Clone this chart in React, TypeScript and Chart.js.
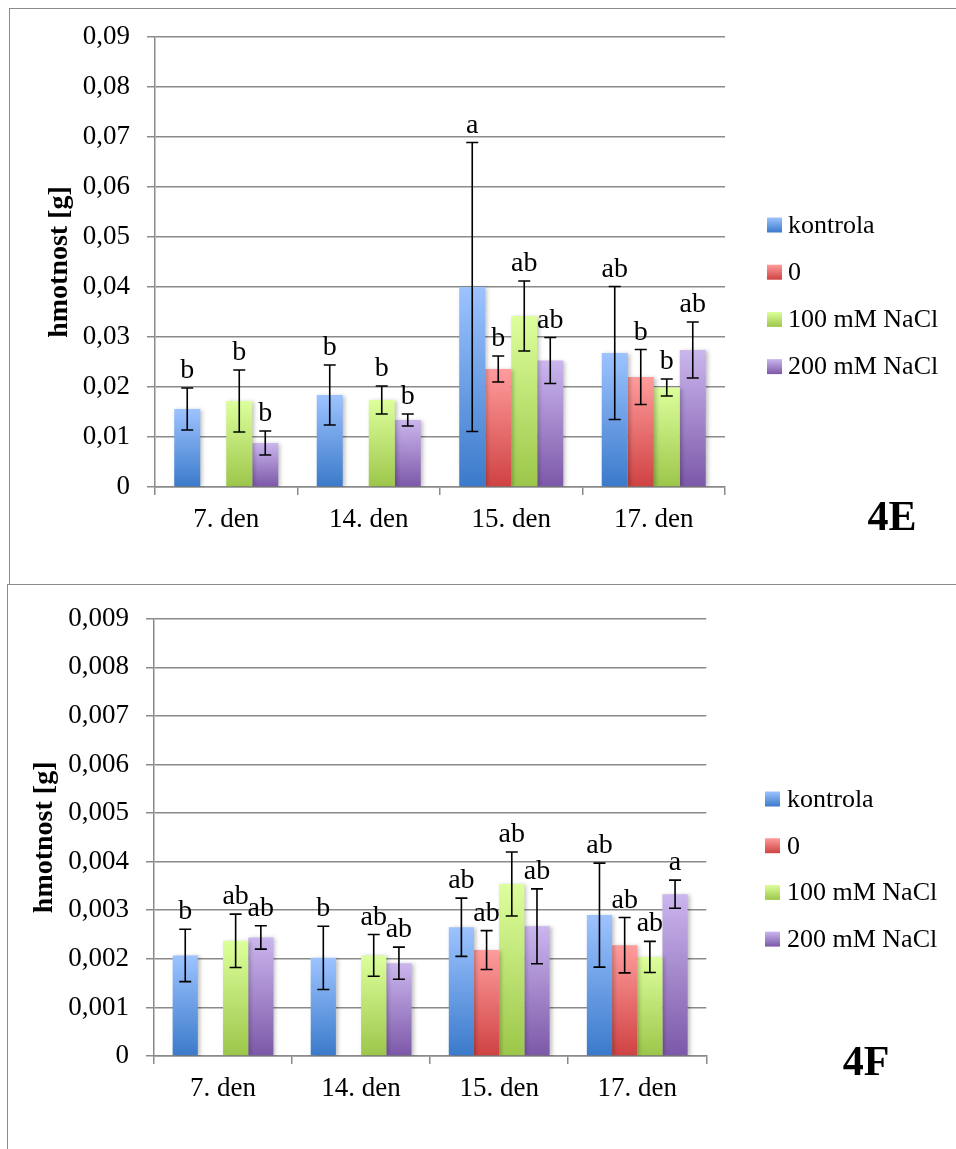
import React, { useEffect, useRef } from 'react';
import { Chart, registerables } from 'chart.js';

Chart.register(...registerables);

const FONT = "'Liberation Serif', 'Times New Roman', serif";

const categories = ['7. den', '14. den', '15. den', '17. den'];
const seriesNames = ['kontrola', '0', '100 mM NaCl', '200 mM NaCl'];
const seriesTopColors = ['#9dc3ff', '#ff9c9c', '#ddff9c', '#cbb6ee'];
const seriesBottomColors = ['#3a7aca', '#cf4242', '#9cc64a', '#7c58a8'];

// Panel 4E
const eKontrola = [0.0156, 0.0184, 0.04, 0.0268];
const eZero = [null, null, 0.0236, 0.022];
const e100 = [0.0172, 0.0174, 0.0342, 0.0199];
const e200 = [0.0088, 0.0134, 0.0253, 0.0274];
const eKontrolaErr = [0.0042, 0.006, 0.0289, 0.0133];
const eZeroErr = [null, null, 0.0026, 0.0055];
const e100Err = [0.0062, 0.0028, 0.007, 0.0017];
const e200Err = [0.0024, 0.0012, 0.0046, 0.0056];
const eKontrolaSig = ['b', 'b', 'a', 'ab'];
const eZeroSig = ['', '', 'b', 'b'];
const e100Sig = ['b', 'b', 'ab', 'b'];
const e200Sig = ['b', 'b', 'ab', 'ab'];
const eTickLabels = ['0', '0,01', '0,02', '0,03', '0,04', '0,05', '0,06', '0,07', '0,08', '0,09'];

// Panel 4F
const fKontrola = [0.00207, 0.00202, 0.00265, 0.0029];
const fZero = [null, null, 0.00218, 0.00228];
const f100 = [0.00237, 0.00207, 0.00354, 0.00204];
const f200 = [0.00244, 0.00191, 0.00267, 0.00333];
const fKontrolaErr = [0.00054, 0.00065, 0.0006, 0.00107];
const fZeroErr = [null, null, 0.0004, 0.00057];
const f100Err = [0.00055, 0.00043, 0.00066, 0.00032];
const f200Err = [0.00024, 0.00033, 0.00077, 0.00029];
const fKontrolaSig = ['b', 'b', 'ab', 'ab'];
const fZeroSig = ['', '', 'ab', 'ab'];
const f100Sig = ['ab', 'ab', 'ab', 'ab'];
const f200Sig = ['ab', 'ab', 'ab', 'a'];
const fTickLabels = ['0', '0,001', '0,002', '0,003', '0,004', '0,005', '0,006', '0,007', '0,008', '0,009'];

const yTitle = 'hmotnost [g]';
const GRID = '#8a8a8a';

type PanelProps = {
  values: (number | null)[][];
  errors: (number | null)[][];
  letters: string[][];
  tickLabels: string[];
  step: number;
  panelLabel: string;
  width: number;
  height: number;
  area: { left: number; top: number; right: number; bottom: number };
  legend: { swatchX: number; textX: number; firstY: number; gap: number };
  labelPos: { x: number; y: number };
};

function Panel(p: PanelProps) {
  const ref = useRef<HTMLCanvasElement | null>(null);
  useEffect(() => {
    const canvas = ref.current;
    if (!canvas) return;
    const xAxisH = 60;
    const tickLen = 8;
    const tickPad = 17;

    const gradFor = (c: CanvasRenderingContext2D, i: number, yTop: number, yBot: number) => {
      const g = c.createLinearGradient(0, yTop, 0, yBot);
      g.addColorStop(0, seriesTopColors[i]);
      g.addColorStop(1, seriesBottomColors[i]);
      return g;
    };

    const overlay = {
      id: 'overlay',
      beforeDatasetsDraw(chart: any) {
        const c = chart.ctx;
        c.save();
        c.shadowColor = 'rgba(0,0,0,0.25)';
        c.shadowBlur = 4;
        c.shadowOffsetX = 2;
        c.shadowOffsetY = 1;
      },
      afterDatasetsDraw(chart: any) {
        const c = chart.ctx as CanvasRenderingContext2D;
        c.restore();
        const y = chart.scales.y;
        c.save();
        c.strokeStyle = '#000';
        c.lineWidth = 1.6;
        c.fillStyle = '#000';
        c.font = `28px ${FONT}`;
        c.textAlign = 'center';
        c.textBaseline = 'alphabetic';
        p.values.forEach((series, d) => {
          const meta = chart.getDatasetMeta(d);
          series.forEach((v, j) => {
            if (v == null) return;
            const e = p.errors[d][j] ?? 0;
            const x = meta.data[j].x;
            const yt = y.getPixelForValue(v + e);
            const yb = y.getPixelForValue(v - e);
            c.beginPath();
            c.moveTo(x, yt);
            c.lineTo(x, yb);
            c.moveTo(x - 6, yt);
            c.lineTo(x + 6, yt);
            c.moveTo(x - 6, yb);
            c.lineTo(x + 6, yb);
            c.stroke();
            const l = p.letters[d][j];
            if (l) c.fillText(l, x, yt - 10);
          });
        });
        c.restore();
      },
      afterDraw(chart: any) {
        const c = chart.ctx as CanvasRenderingContext2D;
        const ca = chart.chartArea;
        c.save();
        c.fillStyle = '#000';
        // y title
        c.font = `27px ${FONT}`;
        let w = 0;
        p.tickLabels.forEach((t) => { w = Math.max(w, c.measureText(t).width); });
        const labelsLeft = ca.left - tickLen - tickPad - w;
        const tx = labelsLeft - 23;
        c.save();
        c.translate(tx, (ca.top + ca.bottom) / 2);
        c.rotate(-Math.PI / 2);
        c.font = `bold 28px ${FONT}`;
        c.textAlign = 'center';
        c.textBaseline = 'middle';
        c.fillText(yTitle, 0, 0);
        c.restore();
        // legend
        c.font = `26px ${FONT}`;
        c.textAlign = 'left';
        c.textBaseline = 'middle';
        seriesNames.forEach((name, i) => {
          const cy = p.legend.firstY + i * p.legend.gap;
          c.fillStyle = gradFor(c, i, cy - 7.5, cy + 7.5);
          c.fillRect(p.legend.swatchX, cy - 7.5, 15, 15);
          c.fillStyle = '#000';
          c.fillText(name, p.legend.textX, cy + 1);
        });
        // panel label
        c.font = `bold 42px ${FONT}`;
        c.textAlign = 'center';
        c.textBaseline = 'alphabetic';
        c.fillText(p.panelLabel, p.labelPos.x, p.labelPos.y);
        c.restore();
      },
    };

    const chart = new Chart(canvas, {
      type: 'bar',
      data: {
        labels: categories,
        datasets: p.values.map((vals, i) => ({
          label: seriesNames[i],
          data: vals as any,
          borderWidth: 0,
          backgroundColor: (ctx: any) => {
            const ch = ctx.chart;
            const v = ctx.raw;
            if (!ch.chartArea || v == null || ctx.type !== 'data') return seriesTopColors[i];
            const ys = ch.scales.y;
            return gradFor(ch.ctx, i, ys.getPixelForValue(v), ys.getPixelForValue(0));
          },
        })),
      },
      options: {
        animation: false,
        responsive: false,
        devicePixelRatio: 1,
        layout: {
          padding: {
            left: 0,
            top: p.area.top,
            right: p.width - p.area.right,
            bottom: p.height - p.area.bottom - xAxisH,
          },
        },
        plugins: {
          legend: { display: false },
          tooltip: { enabled: false },
        },
        datasets: {
          bar: { categoryPercentage: 0.73, barPercentage: 1 },
        },
        scales: {
          x: {
            afterFit: (s: any) => { s.height = xAxisH; },
            grid: {
              drawOnChartArea: false,
              drawTicks: true,
              tickLength: 8,
              offset: true,
              color: GRID,
              lineWidth: 1.5,
            },
            border: { display: true, color: GRID, width: 1.5 },
            ticks: {
              color: '#000',
              font: { family: FONT, size: 27 },
              padding: 9,
              maxRotation: 0,
              autoSkip: false,
            },
          },
          y: {
            min: 0,
            max: p.step * (p.tickLabels.length - 1),
            afterFit: (s: any) => { s.width = p.area.left; },
            grid: { color: GRID, lineWidth: 1.5, tickLength: tickLen, drawTicks: true },
            border: { display: true, color: GRID, width: 1.5 },
            ticks: {
              stepSize: p.step,
              color: '#000',
              padding: tickPad,
              font: { family: FONT, size: 27 },
              callback: (v: any) => p.tickLabels[Math.round(Number(v) / p.step)] ?? '',
            },
          },
        },
      },
      plugins: [overlay],
    });
    return () => chart.destroy();
  }, []);
  return <canvas ref={ref} width={p.width} height={p.height} style={{ display: 'block', width: p.width, height: p.height }} />;
}

export default function App() {
  return (
    <div style={{ position: 'absolute', left: 0, top: 0, width: 956, height: 1149, overflow: 'hidden', background: '#fff' }}>
      <div style={{ position: 'absolute', left: 9, top: 8, width: 980, height: 600, borderTop: `1.5px solid ${GRID}`, borderLeft: `1.5px solid ${GRID}` }} />
      <div style={{ position: 'absolute', left: 7, top: 584, width: 980, height: 600, borderTop: `1.5px solid ${GRID}`, borderLeft: `1.5px solid ${GRID}`, background: '#fff' }} />
      <div style={{ position: 'absolute', left: 0, top: 0 }}>
        <Panel
          values={[eKontrola, eZero, e100, e200]}
          errors={[eKontrolaErr, eZeroErr, e100Err, e200Err]}
          letters={[eKontrolaSig, eZeroSig, e100Sig, e200Sig]}
          tickLabels={eTickLabels}
          step={0.01}
          panelLabel="4E"
          width={956}
          height={580}
          area={{ left: 155, top: 37, right: 725, bottom: 487 }}
          legend={{ swatchX: 767, textX: 788, firstY: 225, gap: 47.2 }}
          labelPos={{ x: 892, y: 530 }}
        />
      </div>
      <div style={{ position: 'absolute', left: 0, top: 580 }}>
        <Panel
          values={[fKontrola, fZero, f100, f200]}
          errors={[fKontrolaErr, fZeroErr, f100Err, f200Err]}
          letters={[fKontrolaSig, fZeroSig, f100Sig, f200Sig]}
          tickLabels={fTickLabels}
          step={0.001}
          panelLabel="4F"
          width={956}
          height={569}
          area={{ left: 154, top: 38.7, right: 706.3, bottom: 476 }}
          legend={{ swatchX: 765, textX: 787, firstY: 219, gap: 46.7 }}
          labelPos={{ x: 866, y: 495 }}
        />
      </div>
    </div>
  );
}
